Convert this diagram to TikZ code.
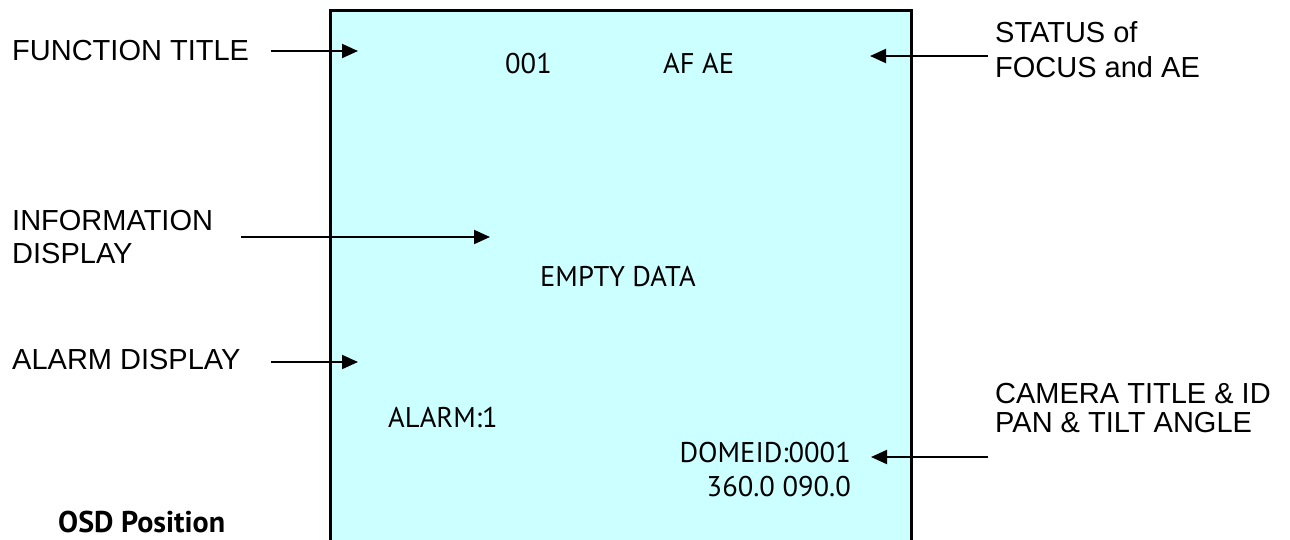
\documentclass[tikz,border=0pt]{standalone}
\usepackage{fontspec}
\setmainfont{Liberation Sans}
\newfontfamily\osdfont{PT Sans}
\usetikzlibrary{arrows.meta}
\definecolor{screencyan}{HTML}{CCFFFF}
\tikzset{
  lbl/.style={inner sep=0pt, anchor=base west, align=left, font=\fontsize{29}{34}\selectfont},
  osd/.style={inner sep=0pt, anchor=base west, font=\osdfont\fontsize{28.5}{36}\selectfont},
  pointer/.style={line width=2pt, -{Triangle[length=16pt,width=14pt]}},
}
\begin{document}
\begin{tikzpicture}[x=1pt,y=-1pt]
\useasboundingbox (0,0) rectangle (1290,539);
% screen
\path[fill=screencyan] (330,10) rectangle (911,545);
\draw[line width=3pt] (330,545) -- (330,10) -- (911,10) -- (911,545);
% outside labels
\node[lbl] (ft) at (12,60) {FUNCTION TITLE};
\node[lbl, font=\fontsize{29}{33}\selectfont] (info) at (12,263) {INFORMATION\\DISPLAY};
\node[lbl] (alarm) at (12,369) {ALARM DISPLAY};
\node[lbl, font=\fontsize{29}{35}\selectfont] (status) at (995,77) {STATUS of\\FOCUS and AE};
\node[lbl, font=\fontsize{29}{29}\selectfont] (cam) at (995,432) {CAMERA TITLE \& ID\\PAN \& TILT ANGLE};
\node[inner sep=0pt, anchor=base west, font=\osdfont\bfseries\fontsize{30}{34}\selectfont] (pos) at (58,532) {OSD Position};
% screen contents
\node[osd] (num) at (505,73) {001};
\node[osd] (afae) at (663,73) {AF AE};
\node[osd] (empty) at (540,286) {EMPTY DATA};
\node[osd] (alarmtxt) at (388,427) {ALARM:1};
\node[osd, anchor=base east] (dome) at (851,462) {DOMEID:0001};
\node[osd, anchor=base east] (angle) at (851,496) {360.0 090.0};
% arrow ends
\coordinate (ftA) at (271,51);   \coordinate (ftB) at (358,51);
\coordinate (infoA) at (241,237); \coordinate (infoB) at (490,237);
\coordinate (alA) at (271,362);  \coordinate (alB) at (358,362);
\coordinate (stA) at (988,56);   \coordinate (stB) at (870,56);
\coordinate (camA) at (988,457); \coordinate (camB) at (871,457);
\draw[pointer] (ftA) -- (ftB);
\draw[pointer] (infoA) -- (infoB);
\draw[pointer] (alA) -- (alB);
\draw[pointer] (stA) -- (stB);
\draw[pointer] (camA) -- (camB);
\end{tikzpicture}
\end{document}
